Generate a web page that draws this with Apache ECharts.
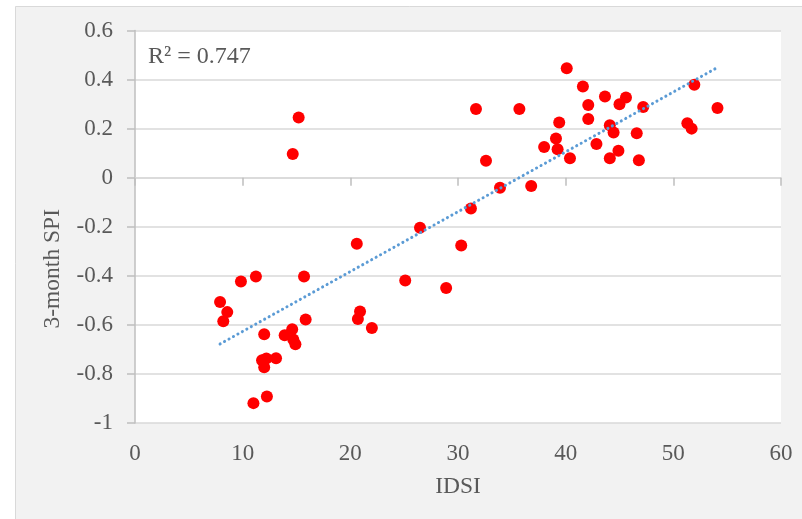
<!DOCTYPE html>
<html>
<head>
<meta charset="utf-8">
<script src="https://cdn.jsdelivr.net/npm/echarts@6/dist/echarts.min.js"></script>
<style>
  html, body { margin: 0; padding: 0; background: #fff; }
  #chart { width: 802px; height: 519px; }
</style>
</head>
<body>
<div id="chart"></div>
<script>
// IDSI (x) and 3-month SPI (y)
var idsi = [
  7.9, 8.57, 8.2, 9.84, 11.23, 15.7, 20.6, 20.9, 20.7, 22.0,
  15.85, 12.0, 13.9, 14.6, 14.7, 14.9, 11.8, 12.2, 12.0, 13.1,
  12.25, 11.0, 15.2, 14.65, 25.1, 26.47, 28.9, 30.3, 31.2,
  31.67, 35.7, 32.6, 33.9, 36.8, 40.1, 41.6, 43.65, 45.6, 45.0,
  42.1, 47.2, 51.95, 54.1, 42.1, 39.4, 44.1, 44.45, 46.6, 51.3,
  51.7, 39.1, 38.0, 39.25, 42.86, 40.4, 44.1, 44.9, 46.8
];
var spi = [
  -0.507, -0.548, -0.585, -0.423, -0.403, -0.403, -0.269, -0.545, -0.576, -0.613,
  -0.578, -0.638, -0.642, -0.618, -0.660, -0.679, -0.744, -0.737, -0.773, -0.736,
  -0.892, -0.919, 0.245, 0.097, -0.419, -0.204, -0.450, -0.276, -0.126,
  0.280, 0.280, 0.069, -0.041, -0.034, 0.446, 0.372, 0.331, 0.327, 0.299,
  0.296, 0.288, 0.379, 0.284, 0.239, 0.225, 0.214, 0.184, 0.181, 0.222,
  0.200, 0.160, 0.125, 0.116, 0.137, 0.079, 0.079, 0.110, 0.071
];
var rSquaredLabel = 'R\u00b2 = 0.747';

var points = idsi.map(function (x, i) { return [x, spi[i]]; });

// linear trendline (least squares), drawn over the data range like Excel
var n = idsi.length, sx = 0, sy = 0, sxx = 0, sxy = 0;
for (var i = 0; i < n; i++) {
  sx += idsi[i]; sy += spi[i];
  sxx += idsi[i] * idsi[i]; sxy += idsi[i] * spi[i];
}
var slope = (n * sxy - sx * sy) / (n * sxx - sx * sx);
var icpt = (sy - slope * sx) / n;
var xMin = Math.min.apply(null, idsi), xMax = Math.max.apply(null, idsi);
var trend = [[xMin, icpt + slope * xMin], [xMax, icpt + slope * xMax]];

var font = 'Liberation Serif';
var textColor = '#595959';

var chart = echarts.init(document.getElementById('chart'));
chart.setOption({
  backgroundColor: '#fff',
  animation: false,
  graphic: [{
    type: 'rect',
    z: -10,
    shape: { x: 15.5, y: 6.5, width: 800, height: 520 },
    style: { fill: '#f2f2f2', stroke: '#d9d9d9', lineWidth: 1 }
  }],
  title: {
    text: rSquaredLabel,
    left: 143,
    top: 40,
    textStyle: { fontFamily: font, fontSize: 24, fontWeight: 'normal', color: textColor }
  },
  grid: {
    left: 135, right: 21, top: 30.5, bottom: 96,
    show: true, backgroundColor: '#fff', borderWidth: 0
  },
  xAxis: [{
    type: 'value',
    min: 0, max: 60, interval: 10,
    name: 'IDSI',
    nameLocation: 'middle',
    nameGap: 52,
    nameTextStyle: { fontFamily: font, fontSize: 23.5, color: textColor },
    axisLine: { show: false, onZero: false },
    axisTick: { show: false },
    axisLabel: { fontFamily: font, fontSize: 23, color: textColor, margin: 19 },
    splitLine: { show: false }
  }, {
    type: 'value',
    position: 'bottom',
    min: 0, max: 60, interval: 10,
    axisLine: { show: true, onZero: true, lineStyle: { color: '#d9d9d9', width: 1.5 } },
    axisTick: { show: true, length: 8, lineStyle: { color: '#bfbfbf', width: 1.5 } },
    axisLabel: { show: false },
    splitLine: { show: false }
  }],
  yAxis: {
    type: 'value',
    min: -1, max: 0.6, interval: 0.2,
    name: '3-month SPI',
    nameLocation: 'middle',
    nameGap: 70,
    nameTextStyle: { fontFamily: font, fontSize: 23.5, color: textColor, padding: [0, 84, 0, 0] },
    axisLine: { show: true, onZero: false, lineStyle: { color: '#bfbfbf', width: 1.5 } },
    axisTick: { show: true, length: 8, lineStyle: { color: '#bfbfbf', width: 1.5 } },
    axisLabel: {
      fontFamily: font, fontSize: 23, color: textColor, margin: 22,
      formatter: function (v) { return String(+v.toFixed(1)); }
    },
    splitLine: { show: true, lineStyle: { color: '#d9d9d9', width: 1.5 } }
  },
  series: [{
    type: 'scatter',
    data: points,
    symbolSize: 12,
    itemStyle: { color: '#ff0000', opacity: 1 },
    z: 3
  }, {
    type: 'line',
    data: trend,
    showSymbol: false,
    silent: true,
    lineStyle: { color: '#5b9bd5', width: 3, type: [0.1, 5], cap: 'round' },
    z: 4
  }]
});
</script>
</body>
</html>
